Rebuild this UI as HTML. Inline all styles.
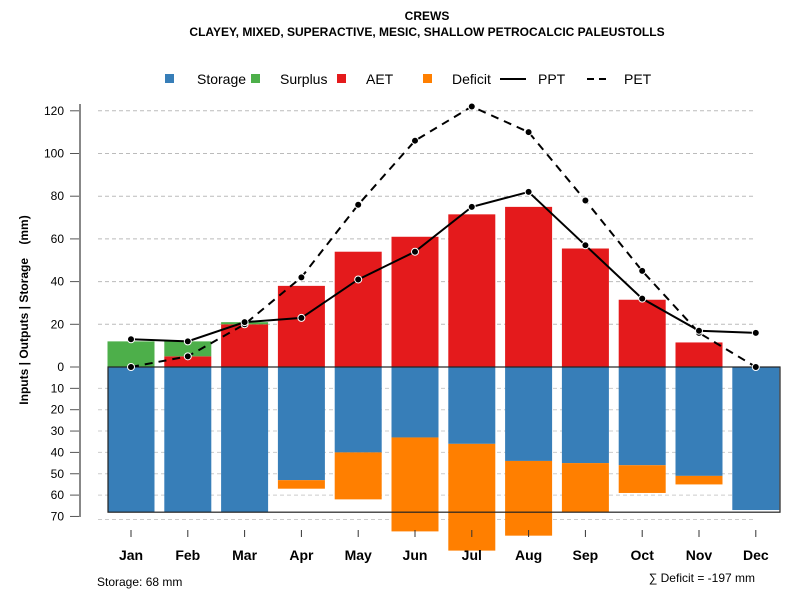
<!DOCTYPE html>
<html><head><meta charset="utf-8"><style>
body{margin:0;background:#fff;}
svg{font-family:"Liberation Sans",sans-serif;}
</style></head><body>
<svg id="c" width="800" height="600" xmlns="http://www.w3.org/2000/svg">
<text x="427" y="20" text-anchor="middle" font-size="12" font-weight="bold">CREWS</text>
<text x="427" y="36" text-anchor="middle" font-size="12" font-weight="bold">CLAYEY, MIXED, SUPERACTIVE, MESIC, SHALLOW PETROCALCIC PALEUSTOLLS</text>
<g font-size="14">
<rect x="165" y="74" width="9" height="9" fill="#377eb8"/>
<text x="197" y="84">Storage</text>
<rect x="251" y="74" width="9" height="9" fill="#4daf4a"/>
<text x="280" y="84">Surplus</text>
<rect x="337" y="74" width="9" height="9" fill="#e41a1c"/>
<text x="366" y="84">AET</text>
<rect x="423" y="74" width="9" height="9" fill="#ff7f00"/>
<text x="452" y="84">Deficit</text>
<line x1="500" y1="79" x2="526" y2="79" stroke="#000" stroke-width="2"/>
<text x="538" y="84">PPT</text>
<line x1="587" y1="79" x2="609" y2="79" stroke="#000" stroke-width="2" stroke-dasharray="7,5"/>
<text x="624" y="84">PET</text>
</g>
<text transform="translate(28,310) rotate(-90)" text-anchor="middle" font-size="12" font-weight="bold">Inputs | Outputs | Storage&#160;&#160;&#160;&#160;(mm)</text>
<text x="97" y="586" font-size="12">Storage: 68 mm</text>
<text x="755" y="582" text-anchor="end" font-size="12">∑ Deficit = -197 mm</text>
<g id="g"></g>
</svg>
<script>
const months=["Jan","Feb","Mar","Apr","May","Jun","Jul","Aug","Sep","Oct","Nov","Dec"];
const storage=[68,68,68,53,40,33,36,44,45,46,51,67];
const deficit=[0,0,0,4,22,44,50,35,23,13,4,0];
const aet=[0,5,20,38,54,61,71.5,75,55.5,31.5,11.5,0];
const surplus=[12,7,1,0,0,0,0,0,0,0,0,0];
const ppt=[13,12,21,23,41,54,75,82,57,32,17,16];
const pet=[0,5,20,42,76,106,122,110,78,45,16,0];
const upTicks=[0,20,40,60,80,100,120];
const downTicks=[10,20,30,40,50,60,70];
const storageCap=68;
const NS="http://www.w3.org/2000/svg";
const g=document.getElementById("g");
const y0=367,k=2.135;
function yUp(v){return y0-v*k;}
function yDn(v){return y0+v*k;}
function xc(i){return 131+i*56.8;}
const bw=47;
function mk(t,a){const e=document.createElementNS(NS,t);for(const n in a)e.setAttribute(n,a[n]);g.appendChild(e);return e;}
// gridlines and ticks
upTicks.forEach(v=>{
 if(v>0){const l=mk("line",{x1:98,x2:756,y1:yUp(v),y2:yUp(v),stroke:"#bbb","stroke-dasharray":"4,3"});
 
 }
 const t=mk("line",{x1:70,x2:80,y1:yUp(v),y2:yUp(v),stroke:"#555"});
 
 
 const tx=mk("text",{x:64,y:yUp(v)+4,"text-anchor":"end","font-size":12});tx.textContent=v;
 
 
});
downTicks.forEach(v=>{
 const l=mk("line",{x1:98,x2:756,y1:yDn(v)+(v==70?3:0),y2:yDn(v)+(v==70?3:0),stroke:"#ccc","stroke-dasharray":"4,3"});
 
 
 const t=mk("line",{x1:70,x2:80,y1:yDn(v),y2:yDn(v),stroke:"#555"});
 
 
 const tx=mk("text",{x:64,y:yDn(v)+4,"text-anchor":"end","font-size":12});tx.textContent=v;
 
 
});
const ax=mk("line",{x1:80,x2:80,y1:104,y2:517,stroke:"#888","stroke-width":2});


months.forEach((m,i)=>{
 const x=xc(i);
 let r=mk("rect",{x:x-bw/2,y:y0,width:bw,height:storage[i]*k,fill:"#377eb8"});
 
 
 if(deficit[i]>0){r=mk("rect",{x:x-bw/2,y:yDn(storage[i]),width:bw,height:deficit[i]*k,fill:"#ff7f00"});
 
 }
 if(aet[i]>0){r=mk("rect",{x:x-bw/2,y:yUp(aet[i]),width:bw,height:aet[i]*k,fill:"#e41a1c"});
 
 }
 if(surplus[i]>0){r=mk("rect",{x:x-bw/2,y:yUp(aet[i]+surplus[i]),width:bw,height:surplus[i]*k,fill:"#4daf4a"});
 
 }
 const t=mk("line",{x1:x,x2:x,y1:530,y2:537,stroke:"#333"});
 
 
 const tx=mk("text",{x:x,y:560,"text-anchor":"middle","font-size":14,"font-weight":"bold"});tx.textContent=m;
 
 
});
const box=mk("rect",{x:108,y:y0,width:672,height:storageCap*k,fill:"none",stroke:"#222","stroke-width":1.2});


function line(arr,name,dash){
 const p=mk("polyline",{points:arr.map((v,i)=>xc(i)+","+yUp(v)).join(" "),fill:"none",stroke:"#000","stroke-width":2});
 if(dash)p.setAttribute("stroke-dasharray","8,6");
 
 
 arr.forEach((v,i)=>{const c=mk("circle",{cx:xc(i),cy:yUp(v),r:3.5,fill:"#000",stroke:"#fff","stroke-width":1});
 
 });
}
line(pet,"pet",true);
line(ppt,"ppt",false);
</script>
</body></html>
